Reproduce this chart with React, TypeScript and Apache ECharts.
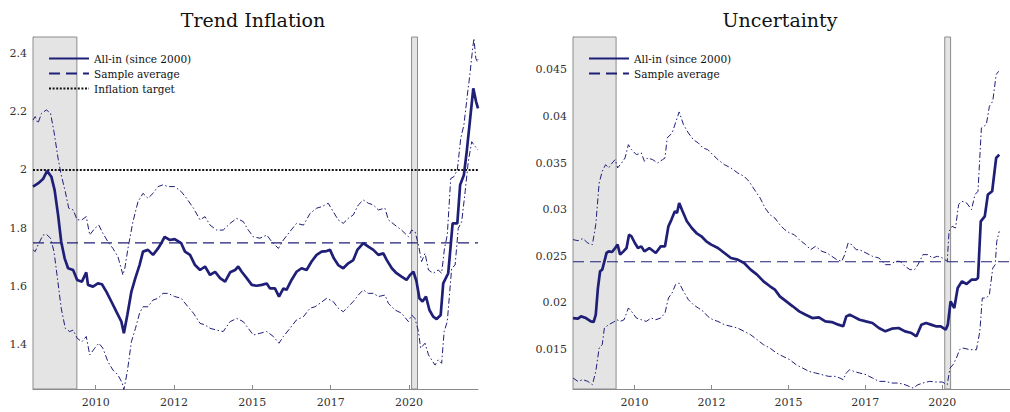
import React, { useEffect, useRef } from "react";
import * as echarts from "echarts";

// ---------- data ----------
const xTicks = [2010, 2012.5, 2015, 2017.5, 2020];
const trendTicks = [1.4, 1.6, 1.8, 2, 2.2, 2.4];
const uncTicks = [0.015, 0.02, 0.025, 0.03, 0.035, 0.04, 0.045];
const recessions: [number, number][] = [
  [2008.0, 2009.4],
  [2020.08, 2020.27],
];
const sampleStart = 2008.0;
const sampleEnd = 2022.2;
const trendAvg = 1.75;
const inflationTarget = 2.0;
const uncAvg = 0.0244;

const trendMid: [number, number][] = [
  [2008.0, 1.943], [2008.16, 1.954], [2008.32, 1.969], [2008.45, 1.997], [2008.585, 1.977],
  [2008.69, 1.931], [2008.8, 1.846], [2008.9, 1.754], [2009.01, 1.697], [2009.12, 1.663],
  [2009.28, 1.657], [2009.41, 1.623], [2009.56, 1.617], [2009.7, 1.649], [2009.755, 1.606],
  [2009.915, 1.6], [2010.07, 1.611], [2010.2, 1.608], [2010.34, 1.583], [2010.5, 1.549],
  [2010.66, 1.514], [2010.82, 1.48], [2010.9, 1.44], [2011.01, 1.503], [2011.14, 1.583],
  [2011.27, 1.631], [2011.4, 1.674], [2011.51, 1.72], [2011.67, 1.726], [2011.83, 1.709],
  [2011.99, 1.731], [2012.12, 1.754], [2012.2, 1.771], [2012.36, 1.76], [2012.52, 1.763],
  [2012.73, 1.749], [2012.85, 1.72], [2013.01, 1.709], [2013.17, 1.674], [2013.33, 1.657],
  [2013.49, 1.669], [2013.65, 1.64], [2013.81, 1.651], [2013.97, 1.629], [2014.13, 1.617],
  [2014.29, 1.649], [2014.45, 1.657], [2014.55, 1.669], [2014.66, 1.651], [2014.82, 1.629],
  [2014.98, 1.606], [2015.14, 1.603], [2015.3, 1.606], [2015.46, 1.611], [2015.56, 1.594],
  [2015.72, 1.594], [2015.85, 1.566], [2015.99, 1.594], [2016.09, 1.589], [2016.25, 1.623],
  [2016.41, 1.651], [2016.57, 1.663], [2016.73, 1.657], [2016.89, 1.686], [2017.05, 1.709],
  [2017.21, 1.72], [2017.37, 1.722], [2017.48, 1.726], [2017.6, 1.697], [2017.74, 1.674],
  [2017.9, 1.663], [2018.06, 1.68], [2018.22, 1.691], [2018.35, 1.726], [2018.54, 1.749],
  [2018.7, 1.737], [2018.86, 1.726], [2019.02, 1.709], [2019.18, 1.714], [2019.29, 1.691],
  [2019.45, 1.663], [2019.6, 1.646], [2019.76, 1.634], [2019.92, 1.623], [2020.03, 1.64],
  [2020.14, 1.651], [2020.24, 1.617], [2020.33, 1.56], [2020.43, 1.549], [2020.54, 1.566],
  [2020.65, 1.52], [2020.77, 1.497], [2020.88, 1.489], [2021.01, 1.503], [2021.09, 1.611],
  [2021.25, 1.646], [2021.33, 1.743], [2021.39, 1.817], [2021.54, 1.817], [2021.63, 1.949],
  [2021.75, 1.983], [2021.84, 2.063], [2021.94, 2.166], [2022.05, 2.28], [2022.14, 2.234],
  [2022.2, 2.211],
];

const trendHi: [number, number][] = [
  [2008.0, 2.171], [2008.07, 2.183], [2008.16, 2.16], [2008.27, 2.194], [2008.43, 2.206],
  [2008.56, 2.194], [2008.67, 2.131], [2008.8, 2.04], [2008.9, 1.983], [2009.03, 1.926],
  [2009.14, 1.869], [2009.28, 1.863], [2009.41, 1.829], [2009.56, 1.829], [2009.7, 1.84],
  [2009.81, 1.777], [2009.97, 1.8], [2010.1, 1.811], [2010.23, 1.783], [2010.39, 1.754],
  [2010.55, 1.731], [2010.71, 1.703], [2010.87, 1.64], [2010.93, 1.663], [2011.03, 1.731],
  [2011.19, 1.823], [2011.35, 1.891], [2011.51, 1.92], [2011.67, 1.903], [2011.83, 1.92],
  [2011.99, 1.943], [2012.15, 1.949], [2012.31, 1.943], [2012.52, 1.943], [2012.73, 1.926],
  [2012.9, 1.903], [2013.12, 1.869], [2013.33, 1.829], [2013.49, 1.84], [2013.65, 1.811],
  [2013.86, 1.794], [2014.07, 1.794], [2014.29, 1.817], [2014.5, 1.834], [2014.71, 1.823],
  [2014.87, 1.794], [2015.03, 1.771], [2015.24, 1.766], [2015.46, 1.777], [2015.62, 1.754],
  [2015.83, 1.731], [2015.99, 1.76], [2016.2, 1.789], [2016.41, 1.817], [2016.63, 1.811],
  [2016.84, 1.851], [2017.05, 1.869], [2017.21, 1.874], [2017.42, 1.886], [2017.58, 1.857],
  [2017.74, 1.829], [2017.9, 1.817], [2018.06, 1.834], [2018.22, 1.846], [2018.38, 1.88],
  [2018.54, 1.897], [2018.7, 1.886], [2018.86, 1.88], [2019.02, 1.863], [2019.23, 1.869],
  [2019.34, 1.829], [2019.55, 1.811], [2019.76, 1.794], [2019.98, 1.771], [2020.08, 1.794],
  [2020.19, 1.789], [2020.3, 1.743], [2020.4, 1.686], [2020.51, 1.714], [2020.62, 1.657],
  [2020.77, 1.646], [2020.93, 1.657], [2021.04, 1.646], [2021.13, 1.731], [2021.22, 1.777],
  [2021.33, 1.971], [2021.43, 1.977], [2021.54, 2.0], [2021.65, 2.109], [2021.75, 2.154],
  [2021.86, 2.257], [2021.94, 2.326], [2022.03, 2.417], [2022.07, 2.451], [2022.13, 2.383],
  [2022.18, 2.371], [2022.2, 2.38],
];

const trendLo: [number, number][] = [
  [2008.0, 1.726], [2008.07, 1.72], [2008.16, 1.743], [2008.32, 1.777], [2008.43, 1.779],
  [2008.56, 1.766], [2008.67, 1.72], [2008.78, 1.629], [2008.9, 1.526], [2009.03, 1.457],
  [2009.17, 1.446], [2009.28, 1.451], [2009.41, 1.423], [2009.56, 1.411], [2009.7, 1.429],
  [2009.81, 1.366], [2009.97, 1.389], [2010.1, 1.406], [2010.23, 1.389], [2010.39, 1.343],
  [2010.55, 1.314], [2010.71, 1.297], [2010.85, 1.269], [2010.9, 1.246], [2011.01, 1.309],
  [2011.14, 1.411], [2011.27, 1.457], [2011.4, 1.509], [2011.51, 1.531], [2011.67, 1.531],
  [2011.83, 1.554], [2011.99, 1.56], [2012.15, 1.577], [2012.31, 1.577], [2012.52, 1.566],
  [2012.73, 1.56], [2012.9, 1.537], [2013.12, 1.509], [2013.33, 1.474], [2013.49, 1.469],
  [2013.65, 1.457], [2013.86, 1.451], [2014.07, 1.446], [2014.29, 1.48], [2014.5, 1.491],
  [2014.71, 1.48], [2014.87, 1.457], [2015.03, 1.434], [2015.24, 1.44], [2015.46, 1.446],
  [2015.67, 1.429], [2015.85, 1.406], [2015.99, 1.429], [2016.2, 1.457], [2016.41, 1.486],
  [2016.63, 1.497], [2016.84, 1.526], [2017.0, 1.531], [2017.16, 1.543], [2017.37, 1.56],
  [2017.58, 1.549], [2017.74, 1.526], [2017.9, 1.514], [2018.06, 1.531], [2018.22, 1.549],
  [2018.38, 1.571], [2018.54, 1.589], [2018.7, 1.577], [2018.86, 1.577], [2019.02, 1.566],
  [2019.23, 1.571], [2019.34, 1.543], [2019.55, 1.52], [2019.76, 1.509], [2019.98, 1.48],
  [2020.08, 1.503], [2020.19, 1.491], [2020.3, 1.446], [2020.37, 1.389], [2020.51, 1.406],
  [2020.62, 1.366], [2020.72, 1.349], [2020.83, 1.331], [2020.93, 1.349], [2021.04, 1.337],
  [2021.12, 1.446], [2021.22, 1.48], [2021.36, 1.663], [2021.47, 1.674], [2021.57, 1.8],
  [2021.68, 1.823], [2021.79, 1.926], [2021.89, 2.029], [2022.0, 2.097], [2022.07, 2.086],
  [2022.16, 2.074], [2022.2, 2.069],
];

const uncMid: [number, number][] = [
  [2008.0, 0.01836], [2008.16, 0.0183], [2008.26, 0.01854], [2008.42, 0.01836], [2008.58, 0.018],
  [2008.67, 0.01793], [2008.74, 0.01872], [2008.81, 0.02159], [2008.88, 0.02338], [2008.95, 0.02356],
  [2009.02, 0.02445], [2009.09, 0.02535], [2009.16, 0.02552], [2009.27, 0.02545], [2009.37, 0.02588],
  [2009.45, 0.02624], [2009.53, 0.02517], [2009.64, 0.02552], [2009.74, 0.02588], [2009.82, 0.02731],
  [2009.9, 0.02714], [2010.01, 0.02642], [2010.11, 0.02588], [2010.22, 0.02606], [2010.32, 0.02552],
  [2010.48, 0.02588], [2010.69, 0.02535], [2010.85, 0.02606], [2010.99, 0.02606], [2011.1, 0.02821],
  [2011.2, 0.02893], [2011.31, 0.02982], [2011.38, 0.02964], [2011.45, 0.03072], [2011.56, 0.02982],
  [2011.7, 0.02875], [2011.86, 0.02803], [2012.01, 0.02749], [2012.17, 0.02714], [2012.33, 0.0266],
  [2012.49, 0.02624], [2012.71, 0.02588], [2012.92, 0.02535], [2013.13, 0.02481], [2013.35, 0.02463],
  [2013.56, 0.02427], [2013.77, 0.02356], [2013.98, 0.02302], [2014.19, 0.0223], [2014.4, 0.02177],
  [2014.56, 0.02141], [2014.72, 0.02069], [2014.93, 0.02015], [2015.14, 0.01962], [2015.35, 0.01908],
  [2015.56, 0.01872], [2015.78, 0.01836], [2015.99, 0.01843], [2016.2, 0.018], [2016.41, 0.01793],
  [2016.62, 0.01765], [2016.78, 0.01747], [2016.88, 0.01854], [2016.99, 0.01872], [2017.1, 0.01854],
  [2017.31, 0.01818], [2017.52, 0.018], [2017.73, 0.01783], [2017.94, 0.01729], [2018.15, 0.01693],
  [2018.36, 0.01722], [2018.58, 0.01729], [2018.79, 0.01693], [2019.0, 0.01675], [2019.16, 0.0164],
  [2019.32, 0.01765], [2019.47, 0.01783], [2019.63, 0.01765], [2019.79, 0.01747], [2019.95, 0.01747],
  [2020.11, 0.01711], [2020.18, 0.01765], [2020.27, 0.02015], [2020.39, 0.01944], [2020.5, 0.02159],
  [2020.64, 0.0223], [2020.79, 0.02202], [2020.95, 0.02248], [2021.09, 0.02248], [2021.16, 0.02266],
  [2021.25, 0.02875], [2021.38, 0.02928], [2021.48, 0.03161], [2021.62, 0.03197], [2021.75, 0.03555],
  [2021.85, 0.03591],
];

const uncHi: [number, number][] = [
  [2008.0, 0.02678], [2008.16, 0.02667], [2008.32, 0.02689], [2008.48, 0.02642], [2008.63, 0.02624],
  [2008.74, 0.02839], [2008.85, 0.03286], [2008.95, 0.03412], [2009.06, 0.03483], [2009.16, 0.03448],
  [2009.27, 0.03501], [2009.37, 0.03537], [2009.45, 0.03448], [2009.58, 0.03501], [2009.69, 0.03555],
  [2009.8, 0.03698], [2009.9, 0.03644], [2010.06, 0.03591], [2010.22, 0.03609], [2010.32, 0.03519],
  [2010.43, 0.03555], [2010.59, 0.03537], [2010.75, 0.03501], [2010.91, 0.03537], [2010.99, 0.03555],
  [2011.06, 0.0377], [2011.22, 0.03823], [2011.33, 0.03931], [2011.45, 0.04049], [2011.59, 0.03913],
  [2011.75, 0.03823], [2011.91, 0.03752], [2012.07, 0.03716], [2012.23, 0.03662], [2012.38, 0.03644],
  [2012.54, 0.03591], [2012.71, 0.03537], [2012.92, 0.03483], [2013.13, 0.03448], [2013.35, 0.03394],
  [2013.56, 0.03358], [2013.72, 0.03304], [2013.93, 0.03197], [2014.08, 0.03125], [2014.24, 0.03018],
  [2014.4, 0.02946], [2014.56, 0.0291], [2014.72, 0.02839], [2014.88, 0.02785], [2015.04, 0.02749],
  [2015.19, 0.02731], [2015.35, 0.02678], [2015.56, 0.02624], [2015.72, 0.0257], [2015.88, 0.02606],
  [2016.09, 0.02552], [2016.25, 0.02535], [2016.41, 0.02499], [2016.57, 0.02463], [2016.73, 0.02445],
  [2016.83, 0.02517], [2016.94, 0.02642], [2017.06, 0.02624], [2017.2, 0.0257], [2017.31, 0.0257],
  [2017.52, 0.02535], [2017.73, 0.02499], [2017.94, 0.02481], [2018.15, 0.02409], [2018.31, 0.02409],
  [2018.47, 0.02445], [2018.63, 0.02445], [2018.79, 0.02391], [2018.95, 0.02356], [2019.1, 0.02356],
  [2019.21, 0.02409], [2019.37, 0.02517], [2019.53, 0.02517], [2019.68, 0.02481], [2019.84, 0.02499],
  [2020.0, 0.02481], [2020.16, 0.02445], [2020.22, 0.02767], [2020.32, 0.02821], [2020.43, 0.02803],
  [2020.53, 0.03054], [2020.64, 0.0309], [2020.79, 0.03072], [2020.95, 0.03], [2021.06, 0.03161],
  [2021.16, 0.03197], [2021.27, 0.03877], [2021.43, 0.03913], [2021.53, 0.0411], [2021.64, 0.04164],
  [2021.75, 0.0445], [2021.83, 0.04486],
];

const uncLo: [number, number][] = [
  [2008.0, 0.01192], [2008.16, 0.01156], [2008.32, 0.01174], [2008.48, 0.01156], [2008.63, 0.0112],
  [2008.74, 0.01263], [2008.85, 0.01514], [2008.95, 0.0155], [2009.02, 0.01729], [2009.16, 0.01765],
  [2009.32, 0.01793], [2009.43, 0.01818], [2009.53, 0.018], [2009.66, 0.01818], [2009.8, 0.01944],
  [2009.9, 0.01908], [2010.06, 0.01836], [2010.22, 0.01818], [2010.38, 0.018], [2010.54, 0.01836],
  [2010.69, 0.01818], [2010.85, 0.01836], [2010.99, 0.0189], [2011.1, 0.02051], [2011.22, 0.02105],
  [2011.33, 0.02194], [2011.45, 0.02212], [2011.59, 0.02123], [2011.75, 0.02033], [2011.91, 0.0198],
  [2012.07, 0.01944], [2012.23, 0.01908], [2012.38, 0.01854], [2012.54, 0.01818], [2012.71, 0.018],
  [2012.92, 0.01765], [2013.13, 0.01747], [2013.35, 0.01729], [2013.56, 0.01693], [2013.77, 0.01657],
  [2013.98, 0.01604], [2014.19, 0.0155], [2014.4, 0.01514], [2014.61, 0.0146], [2014.82, 0.01425],
  [2015.04, 0.01389], [2015.25, 0.01335], [2015.46, 0.01299], [2015.67, 0.01263], [2015.88, 0.01246],
  [2016.09, 0.01228], [2016.3, 0.0121], [2016.51, 0.0121], [2016.67, 0.01192], [2016.78, 0.01174],
  [2016.88, 0.01246], [2016.99, 0.01281], [2017.12, 0.01263], [2017.31, 0.01246], [2017.52, 0.01228],
  [2017.73, 0.01192], [2017.94, 0.01156], [2018.15, 0.01156], [2018.36, 0.01138], [2018.58, 0.01138],
  [2018.79, 0.0112], [2019.05, 0.01084], [2019.21, 0.0112], [2019.37, 0.01138], [2019.58, 0.01156],
  [2019.79, 0.01149], [2020.0, 0.01149], [2020.16, 0.0112], [2020.25, 0.01299], [2020.35, 0.01335],
  [2020.46, 0.01407], [2020.56, 0.01496], [2020.67, 0.01514], [2020.9, 0.01496], [2021.11, 0.01496],
  [2021.22, 0.01693], [2021.3, 0.02051], [2021.43, 0.02051], [2021.53, 0.02087], [2021.64, 0.02373],
  [2021.72, 0.02409], [2021.77, 0.0266], [2021.85, 0.02767],
];

// ---------- styles ----------
const NAVY = "#1f1f78";
const FONT = "DejaVu Serif";
const AXIS_GRAY = "#8a8a8a";
const MAIN = "All-in (since 2000)";
const AVG = "Sample average";
const TARGET = "Inflation target";

function makeXAxis(gridIndex: number) {
  return {
    type: "value",
    gridIndex,
    min: sampleStart,
    max: sampleEnd,
    axisLine: { show: true, onZero: false, lineStyle: { color: AXIS_GRAY, width: 1 } },
    axisTick: { show: true, inside: true, length: 4, customValues: xTicks, lineStyle: { color: AXIS_GRAY } },
    axisLabel: {
      customValues: xTicks,
      formatter: (v: number) => String(Math.floor(v)),
      fontFamily: FONT,
      fontSize: 11,
      color: "#333",
      margin: 8,
    },
    splitLine: { show: false },
  };
}

function makeYAxis(gridIndex: number, min: number, max: number, ticks: number[]) {
  return {
    type: "value",
    gridIndex,
    min,
    max,
    axisLine: { show: true, onZero: false, lineStyle: { color: AXIS_GRAY, width: 1 } },
    axisTick: { show: true, inside: true, length: 4, customValues: ticks, lineStyle: { color: AXIS_GRAY } },
    axisLabel: {
      customValues: ticks,
      formatter: (v: number) => String(v),
      fontFamily: FONT,
      fontSize: 11,
      color: "#333",
      margin: 6,
    },
    splitLine: { show: false },
  };
}

const bandStyle = { color: NAVY, width: 1, type: [6, 2.5, 1.5, 2.5] };
const hiddenSymbol = { color: NAVY, opacity: 0 };

function band(name: string, data: [number, number][], idx: number, withShade: boolean) {
  const s: any = {
    name,
    type: "line",
    xAxisIndex: idx,
    yAxisIndex: idx,
    data,
    symbol: "none",
    silent: true,
    lineStyle: bandStyle,
    itemStyle: hiddenSymbol,
    z: 3,
  };
  if (withShade) {
    s.markArea = {
      silent: true,
      itemStyle: { color: "#e4e4e4", borderColor: "#8c8c8c", borderWidth: 1 },
      data: recessions.map(([a, b]) => [{ xAxis: a }, { xAxis: b }]),
    };
  }
  return s;
}

export default function App() {
  const ref = useRef<HTMLDivElement>(null);

  useEffect(() => {
    if (!ref.current) return;
    const chart = echarts.init(ref.current, undefined, { renderer: "svg" });
    const legendCommon = {
      orient: "vertical",
      padding: 0,
      itemWidth: 40,
      itemHeight: 10,
      itemGap: 4,
      selectedMode: false,
      itemStyle: { opacity: 0 },
      textStyle: { fontFamily: FONT, fontSize: 10.5, color: "#111", lineHeight: 10 },
    };
    chart.setOption({
      animation: false,
      backgroundColor: "#ffffff",
      grid: [
        { left: 33, top: 37, width: 445, height: 352 },
        { left: 573, top: 37, width: 448, height: 352 },
      ],
      xAxis: [makeXAxis(0), makeXAxis(1)],
      yAxis: [
        makeYAxis(0, 1.249, 2.456, trendTicks),
        makeYAxis(1, 0.01074, 0.04854, uncTicks),
      ],
      legend: [
        { ...legendCommon, left: 48, top: 53, data: [MAIN, AVG, TARGET] },
        { ...legendCommon, left: 588, top: 53, data: [MAIN, AVG] },
      ],
      graphic: [
        {
          type: "text",
          x: 253,
          y: 20,
          style: {
            text: "Trend Inflation",
            font: `19px "${FONT}"`,
            textAlign: "center",
            textVerticalAlign: "middle",
            fill: "#111",
          },
        },
        {
          type: "text",
          x: 780,
          y: 20,
          style: {
            text: "Uncertainty",
            font: `19px "${FONT}"`,
            textAlign: "center",
            textVerticalAlign: "middle",
            fill: "#111",
          },
        },
      ],
      series: [
        band("Trend upper", trendHi, 0, true),
        band("Trend lower", trendLo, 0, false),
        {
          name: TARGET,
          type: "line",
          xAxisIndex: 0,
          yAxisIndex: 0,
          data: [[sampleStart, inflationTarget], [sampleEnd, inflationTarget]],
          symbol: "none",
          silent: true,
          lineStyle: { color: "#111", width: 2.2, type: [2, 1.6] },
          itemStyle: { color: "#111", opacity: 0 },
          z: 3,
        },
        {
          name: AVG,
          type: "line",
          xAxisIndex: 0,
          yAxisIndex: 0,
          data: [[sampleStart, trendAvg], [sampleEnd, trendAvg]],
          symbol: "none",
          silent: true,
          lineStyle: { color: NAVY, width: 1.1, type: [11, 6] },
          itemStyle: hiddenSymbol,
          z: 3,
        },
        {
          name: MAIN,
          type: "line",
          xAxisIndex: 0,
          yAxisIndex: 0,
          data: trendMid,
          symbol: "none",
          silent: true,
          lineStyle: { color: NAVY, width: 2.7 },
          itemStyle: hiddenSymbol,
          z: 4,
        },
        band("Uncertainty upper", uncHi, 1, true),
        band("Uncertainty lower", uncLo, 1, false),
        {
          name: AVG,
          type: "line",
          xAxisIndex: 1,
          yAxisIndex: 1,
          data: [[sampleStart, uncAvg], [sampleEnd, uncAvg]],
          symbol: "none",
          silent: true,
          lineStyle: { color: NAVY, width: 1.1, type: [11, 6] },
          itemStyle: hiddenSymbol,
          z: 3,
        },
        {
          name: MAIN,
          type: "line",
          xAxisIndex: 1,
          yAxisIndex: 1,
          data: uncMid,
          symbol: "none",
          silent: true,
          lineStyle: { color: NAVY, width: 2.7 },
          itemStyle: hiddenSymbol,
          z: 4,
        },
      ],
    });
    return () => chart.dispose();
  }, []);

  return (
    <div
      ref={ref}
      style={{ position: "fixed", left: 0, top: 0, width: 1010, height: 412, background: "#fff" }}
    />
  );
}
